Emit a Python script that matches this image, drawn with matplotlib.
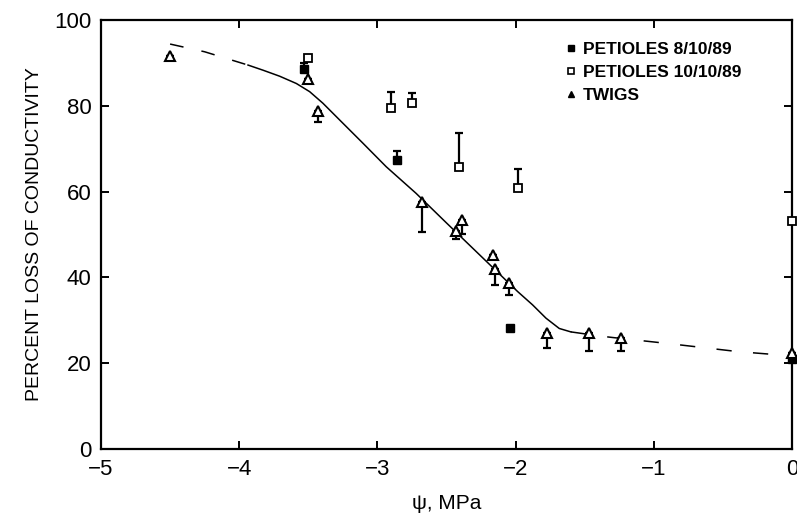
import numpy as np
import matplotlib
matplotlib.use("Agg")
import matplotlib.pyplot as plt
from matplotlib.lines import Line2D

plt.rcParams["font.family"] = ["Liberation Sans", "DejaVu Sans"]

# petioles 8/10/89 (filled squares), error bars point up
pet1_x = [-3.53, -2.86, -2.04, 0.0]
pet1_y = [88.5, 67.4, 28.1, 20.9]
pet1_err = [1.5, 2.1, 0.0, 0.0]

# petioles 10/10/89 (open squares), error bars point up
pet2_x = [-3.50, -2.90, -2.75, -2.41, -1.98, 0.0]
pet2_y = [91.1, 79.4, 80.6, 65.8, 60.8, 53.1]
pet2_err = [0.0, 3.9, 2.3, 7.8, 4.4, 0.0]

# twigs (open triangles), error bars point down
twig_x = [-4.50, -3.50, -3.43, -2.68, -2.43, -2.39, -2.16, -2.15, -2.045, -1.775, -1.467, -1.235, 0.0]
twig_y = [91.7, 86.2, 78.7, 57.6, 50.8, 53.5, 45.2, 42.0, 38.6, 27.1, 27.0, 25.8, 22.3]
twig_err = [0.0, 0.0, 2.4, 6.9, 1.9, 3.4, 0.0, 3.8, 2.7, 3.5, 4.1, 3.0, 0.0]

# fitted curve
curve_x = np.array([-4.50, -4.25, -3.936, -3.827, -3.707, -3.586, -3.49, -3.394, -3.273,
                    -3.105, -2.936, -2.72, -2.50, -2.21, -1.985, -1.877, -1.78, -1.684,
                    -1.60, -1.38, -1.30, -0.90, -0.39, 0.0])
curve_y = np.array([94.4, 92.6, 89.5, 88.3, 86.9, 85.2, 83.3, 80.6, 76.7,
                    71.3, 65.8, 59.6, 52.7, 43.7, 36.7, 33.6, 30.5, 28.1,
                    27.3, 26.3, 26.0, 24.6, 22.7, 21.7])
solid_from, solid_to = -3.936, -1.60

fig = plt.figure(figsize=(7.97, 5.27), dpi=100)
ax = fig.add_axes([0.1267, 0.148, 0.867, 0.814])

lo = curve_x <= solid_from
mid = (curve_x >= solid_from) & (curve_x <= solid_to)
hi = curve_x >= solid_to
ax.plot(curve_x[lo], curve_y[lo], color="black", lw=1.1, dashes=(9, 12), zorder=1)
ax.plot(curve_x[mid], curve_y[mid], color="black", lw=1.1, zorder=1)
ax.plot(curve_x[hi], curve_y[hi], color="black", lw=1.1, dashes=(10, 14), zorder=1)

eb = dict(fmt="none", ecolor="black", elinewidth=1.6, capsize=3, capthick=1.6, zorder=2, clip_on=False)
ax.errorbar(pet1_x, pet1_y, yerr=[np.zeros(len(pet1_err)), pet1_err], **eb)
ax.errorbar(pet2_x, pet2_y, yerr=[np.zeros(len(pet2_err)), pet2_err], **eb)
ax.errorbar(twig_x, twig_y, yerr=[twig_err, np.zeros(len(twig_err))], **eb)

ax.plot(pet1_x, pet1_y, ls="none", marker="s", ms=5.5, mfc="black", mec="black", zorder=3, clip_on=False)
ax.plot(pet2_x, pet2_y, ls="none", marker="s", ms=5.5, mfc="white", mec="black", mew=1.3, zorder=3, clip_on=False)
ax.plot(twig_x, twig_y, ls="none", marker="^", ms=6.5, mfc="white", mec="black", mew=1.5, zorder=4, clip_on=False)

ax.set_xlim(-5, 0)
ax.set_ylim(0, 100)
ax.set_xticks([-5, -4, -3, -2, -1, 0])
ax.set_xticklabels(["\u22125", "\u22124", "\u22123", "\u22122", "\u22121", "0"])
ax.set_yticks([0, 20, 40, 60, 80, 100])
ax.tick_params(direction="in", length=6, width=1.4, labelsize=16, top=True, right=True, pad=7)
for s in ax.spines.values():
    s.set_linewidth(1.6)

ax.set_xlabel("\u03c8, MPa", fontsize=15, labelpad=10)
ax.set_ylabel("PERCENT LOSS OF CONDUCTIVITY", fontsize=14, labelpad=8)

handles = [
    Line2D([], [], ls="none", marker="s", ms=5, mfc="black", mec="black"),
    Line2D([], [], ls="none", marker="s", ms=5, mfc="white", mec="black", mew=1.2),
    Line2D([], [], ls="none", marker="^", ms=5, mfc="black", mec="black"),
]
labels = ["PETIOLES 8/10/89", "PETIOLES 10/10/89", "TWIGS"]
ax.legend(handles, labels, loc="upper left", bbox_to_anchor=(0.65, 0.985), frameon=False,
          handlelength=0.6, handletextpad=0.4, labelspacing=0.45,
          prop={"weight": "bold", "size": 12.5})

fig.savefig("out.png", dpi=100)
